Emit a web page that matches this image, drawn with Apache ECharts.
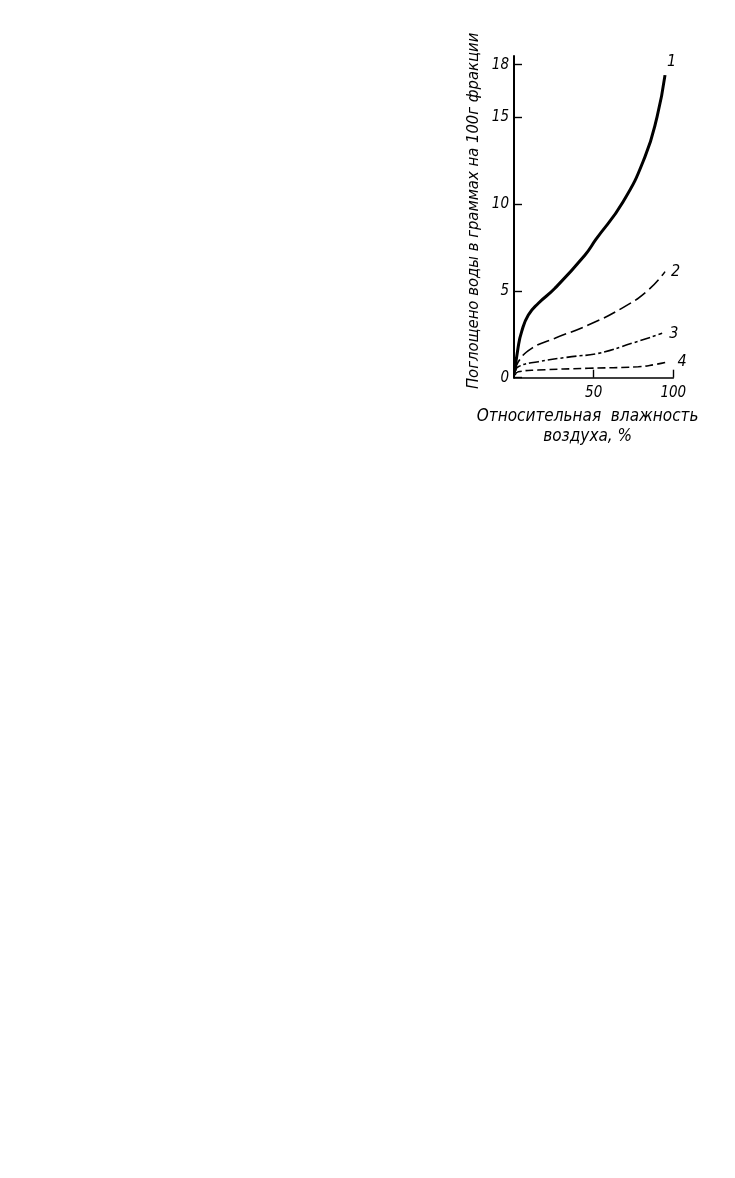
<!DOCTYPE html>
<html>
<head>
<meta charset="utf-8">
<script src="https://cdn.jsdelivr.net/npm/echarts@6/dist/echarts.min.js"></script>
<style>
html,body{margin:0;padding:0;background:#fff;}
#c{width:735px;height:1178px;}
</style>
</head>
<body>
<div id="c"></div>
<script>
// Data (x: relative humidity %, y: grams of water per 100 g)
const curve1 = [[0.6,0.4],[2.5,1.7],[4.8,2.65],[9,3.6],[15.3,4.28],[25.7,5.14],[44.6,7.06],[51.4,7.95],[68.4,10.1],[82.2,12.7],[89.8,15.0],[94.8,17.4]];
const curve2 = [[0.6,0.35],[2.7,0.92],[11.1,1.69],[25.7,2.27],[46.6,3.03],[67.6,3.99],[84.3,5.04],[94.8,6.1]];
const curve3 = [[0.6,0.25],[2.7,0.63],[15.3,0.92],[36.3,1.21],[53,1.4],[74,1.98],[93,2.55]];
const curve4 = [[0.6,0.15],[2.7,0.34],[15,0.44],[46.6,0.54],[78,0.63],[88,0.75],[97,0.92]];
const curveNames = ['1','2','3','4'];
const yTicks = [0,5,10,15,18];
const xTicks = [50,100];
const xTitle = 'Относительная  влажность\nвоздуха, %';
const yTitle = 'Поглощено воды в граммах на 100г фракции';

const FONT = "'Liberation Sans Narrow','DejaVu Sans Condensed','Liberation Sans',sans-serif";
const chart = echarts.init(document.getElementById('c'), null, {renderer:'canvas'});

function lineSeries(name, data, width, dash, offset){
  return {
    name: name, type:'line', data: data, smooth: true, symbol:'none',
    lineStyle:{color:'#000', width: width, type: dash},
    endLabel:{show:true, formatter: name, color:'#000', fontStyle:'italic',
      fontFamily: FONT, fontSize:16, offset: offset},
    animation:false
  };
}

chart.setOption({
  backgroundColor:'#fff',
  animation:false,
  grid:{left:514, right:61.7, top:56, bottom:800.3, containLabel:false},
  xAxis:{
    type:'value', min:0, max:100,
    axisLine:{show:true, lineStyle:{color:'#000', width:1.6}},
    axisTick:{show:true, inside:true, length:8, customValues: xTicks, lineStyle:{color:'#000', width:1.4}},
    axisLabel:{show:true, customValues: xTicks, color:'#000', fontStyle:'italic', fontFamily: FONT, fontSize:15, margin:8},
    splitLine:{show:false},
    name: xTitle, nameLocation:'middle', nameGap:29,
    nameTextStyle:{color:'#000', fontStyle:'italic', fontFamily: FONT, fontSize:17, lineHeight:20, padding:[0,12,0,0]}
  },
  yAxis:{
    type:'value', min:0, max:18.5,
    axisLine:{show:true, lineStyle:{color:'#000', width:2}},
    axisTick:{show:true, inside:true, length:8, customValues: yTicks, lineStyle:{color:'#000', width:1.4}},
    axisLabel:{show:true, customValues: yTicks, color:'#000', fontStyle:'italic', fontFamily: FONT, fontSize:15, margin:5},
    splitLine:{show:false},
    name: yTitle, nameLocation:'middle', nameRotate:90, nameGap:32,
    nameTextStyle:{color:'#000', fontStyle:'italic', fontFamily: FONT, fontSize:16.5, padding:[0,0,0,12]}
  },
  series:[
    lineSeries(curveNames[0], curve1, 3, 'solid', [-6,-13]),
    lineSeries(curveNames[1], curve2, 1.6, [13,5], [-2,0]),
    lineSeries(curveNames[2], curve3, 1.6, [10,3,3,3], [-1,0]),
    lineSeries(curveNames[3], curve4, 1.6, [8,4], [1,0])
  ]
});
</script>
</body>
</html>
